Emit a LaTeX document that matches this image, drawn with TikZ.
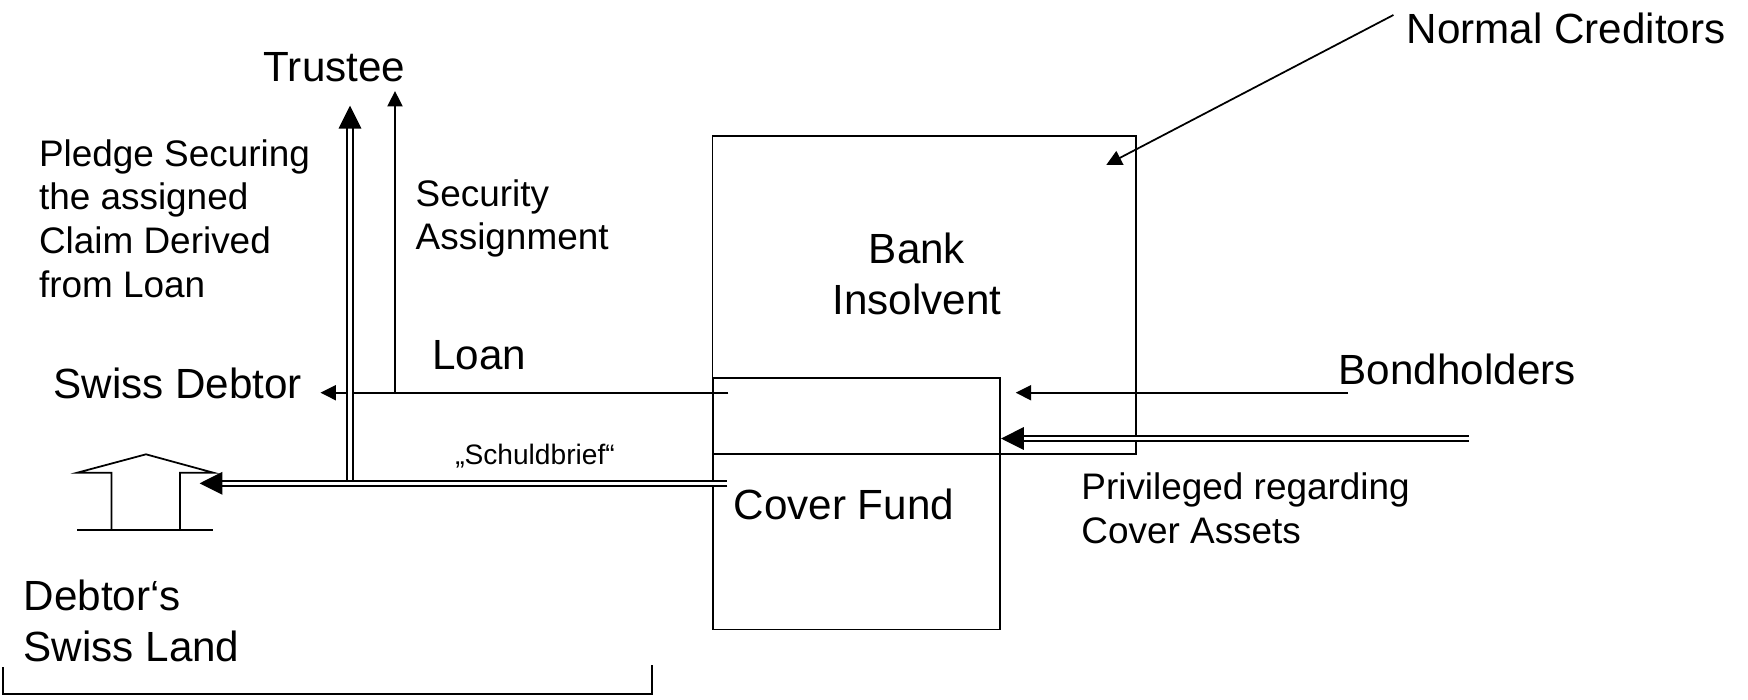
\documentclass[tikz,border=0pt]{standalone}
\usepackage{fontspec}
\setmainfont{Liberation Sans}
\usetikzlibrary{arrows.meta}

% multi-line label whose baseline is that of its first line
\newcommand{\stacklines}[2][l]{\begin{tabular}[t]{@{}#1@{}}#2\end{tabular}}

\tikzset{
  line/.style={line width=0.5pt, draw=black},
  thin arrow/.style={line, -{Triangle[length=4.4pt,width=4.3pt]}},
  dbl arrow/.style={line width=0.5pt, draw=black, double, double distance=1.0pt,
                    -{Triangle[length=6.5pt,width=6.4pt]}},
  box/.style={draw, line width=0.5pt, inner sep=0pt},
  big/.style={font=\fontsize{12}{14.5}\selectfont, inner sep=0pt},
  mid/.style={font=\fontsize{10.5}{12.5}\selectfont, inner sep=0pt},
  small/.style={font=\fontsize{8}{9.6}\selectfont, inner sep=0pt},
}

\begin{document}
\begin{tikzpicture}[x=0.01cm, y=-0.01cm]
\useasboundingbox (0,0) rectangle (1748,699);

% bank and its cover fund
\node[box, minimum width=4.233cm, minimum height=3.18cm] (bank) at (924.35,295) {};
\node[box, minimum width=2.873cm, minimum height=2.51cm] (cover) at (856.35,503.8) {};

% labels
\node[big, anchor=base] (trustee) at (334.5,81.7) {Trustee};
\node[big, anchor=base west] (normal) at (1406,43) {Normal Creditors};
\node[mid, anchor=base west] (pledge) at (38.3,166)
  {\stacklines{Pledge Securing\\the assigned\\Claim Derived\\from Loan}};
\node[mid, anchor=base west] (secass) at (415,206)
  {\stacklines{Security\\Assignment}};
\node[big, anchor=base] (banklbl) at (917,263.3)
  {\stacklines[c]{Bank\\Insolvent}};
\node[big, anchor=base west] (loan) at (431.7,369.3) {Loan};
\node[big, anchor=base west] (debtor) at (52.7,398.3) {Swiss Debtor};
\node[big, anchor=base west] (bondholders) at (1338,384) {Bondholders};
\node[small, anchor=base] (schuldbrief) at (535,464) {„Schuldbrief“};
\node[big, anchor=base west] (coverlbl) at (733,519.3) {Cover Fund};
\node[mid, anchor=base west] (privileged) at (1080.7,499.3)
  {\stacklines{Privileged regarding\\Cover Assets}};
\node[big, anchor=base west] (land) at (23,610)
  {\stacklines{Debtor‘s\\Swiss Land}};

% house of the debtor on its plot
\draw[line, line join=miter] (77.2,472.7) -- (146,454.3) -- (213.4,472.7)
  -- (179.9,472.7) -- (179.9,530) -- (111.6,530) -- (111.6,472.7) -- cycle;
\draw[line] (77.2,530) -- (213.4,530);

% bracket under the land
\draw[line] (3,667) |- (651.8,694) -- (651.8,665);

% connector ends
\coordinate (nc-from) at (1393.4,15);
\coordinate (nc-to) at (1106.2,165);
\coordinate (bond-from) at (1348,392.7);
\coordinate (bond-to) at (1015.7,392.7);
\coordinate (priv-from) at (1469,438.5);
\coordinate (priv-to) at (1001,438.5);
\coordinate (loan-from) at (728.3,392.7);
\coordinate (loan-to) at (320.5,392.7);
\coordinate (sec-from) at (395,392.7);
\coordinate (sec-to) at (395,91);
\coordinate (sb-from) at (727.3,483.3);
\coordinate (sb-to) at (199.6,483.3);
\coordinate (pl-from) at (350,483.3);
\coordinate (pl-to) at (350,105.7);

% connectors
\draw[thin arrow] (nc-from) -- (nc-to);
\draw[thin arrow] (bond-from) -- (bond-to);
\draw[dbl arrow] (priv-from) -- (priv-to);
\draw[thin arrow] (loan-from) -- (loan-to);
\draw[thin arrow] (sec-from) -- (sec-to);
\draw[dbl arrow] (pl-from) -- (pl-to);
\draw[dbl arrow] (sb-from) -- (sb-to);
\end{tikzpicture}
\end{document}
